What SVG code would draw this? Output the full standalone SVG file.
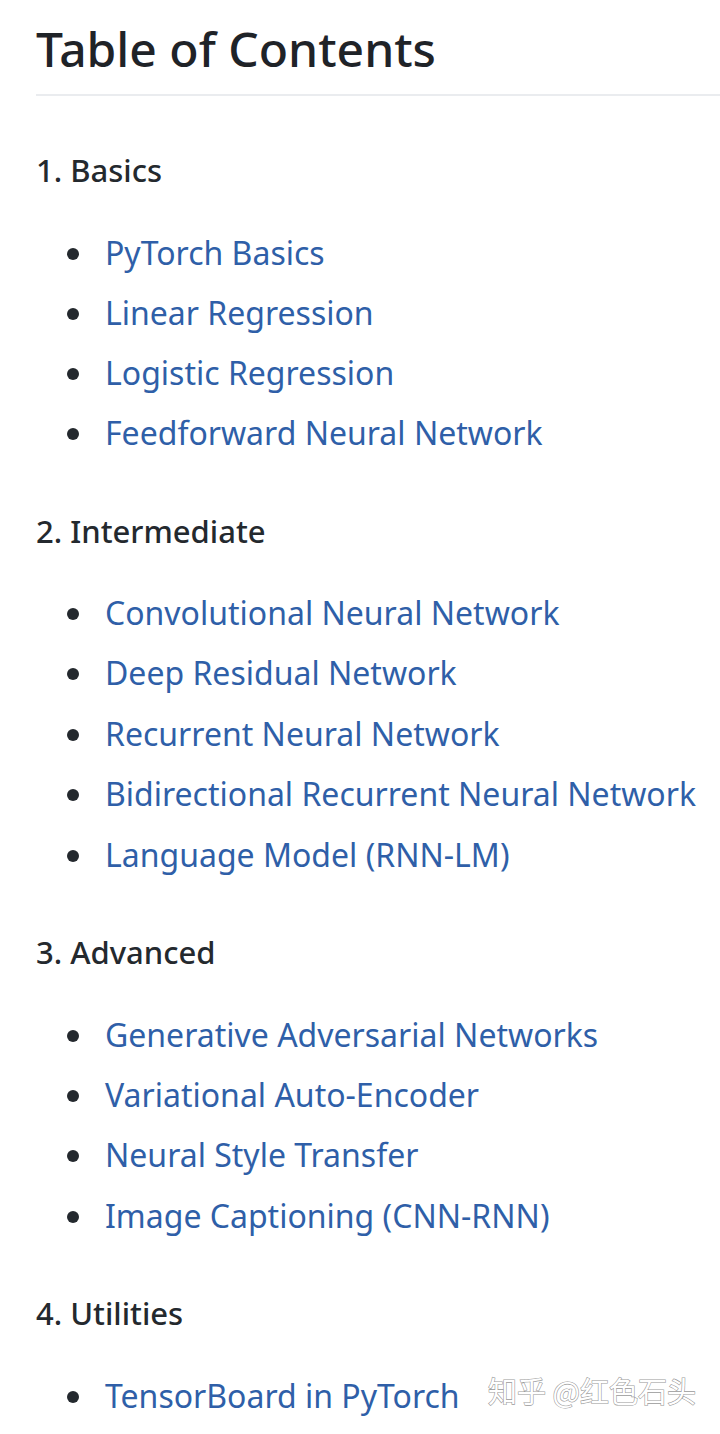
<svg xmlns="http://www.w3.org/2000/svg" width="720" height="1434" viewBox="0 0 720 1434">
<style>
.t{font-family:"Noto Sans","Open Sans",sans-serif;font-size:48px;font-weight:500;fill:#1f2328}
.h{font-family:"Noto Sans","Open Sans",sans-serif;font-size:31px;font-weight:500;fill:#24292e}
.i{font-family:"Noto Sans","Open Sans",sans-serif;font-size:32px;fill:#2f5fa8}
.b{fill:#24292e}
.w{font-family:"Noto Sans CJK SC",sans-serif;font-size:29px;fill:#ffffff;stroke:#9a9a9a;stroke-width:1.2;paint-order:stroke}
</style>
<rect width="720" height="1434" fill="#ffffff"/>
<text class="t" x="36" y="67">Table of Contents</text>
<rect x="36" y="94" width="684" height="2" fill="#eaecef"/>
<text class="h" x="36" y="182">1. Basics</text>
<text class="h" x="36" y="543">2. Intermediate</text>
<text class="h" x="36" y="964">3. Advanced</text>
<text class="h" x="36" y="1325">4. Utilities</text>
<g class="b">
<circle cx="73" cy="254" r="6"/><circle cx="73" cy="314" r="6"/><circle cx="73" cy="374" r="6"/><circle cx="73" cy="434" r="6"/>
<circle cx="73" cy="614" r="6"/><circle cx="73" cy="674" r="6"/><circle cx="73" cy="735" r="6"/><circle cx="73" cy="795" r="6"/><circle cx="73" cy="856" r="6"/>
<circle cx="73" cy="1036" r="6"/><circle cx="73" cy="1096" r="6"/><circle cx="73" cy="1156" r="6"/><circle cx="73" cy="1217" r="6"/>
<circle cx="73" cy="1397" r="6"/>
</g>
<text class="i" x="105" y="265">PyTorch Basics</text>
<text class="i" x="105" y="325">Linear Regression</text>
<text class="i" x="105" y="385">Logistic Regression</text>
<text class="i" x="105" y="445">Feedforward Neural Network</text>
<text class="i" x="105" y="625">Convolutional Neural Network</text>
<text class="i" x="105" y="685">Deep Residual Network</text>
<text class="i" x="105" y="746">Recurrent Neural Network</text>
<text class="i" x="105" y="806">Bidirectional Recurrent Neural Network</text>
<text class="i" x="105" y="867">Language Model (RNN-LM)</text>
<text class="i" x="105" y="1047">Generative Adversarial Networks</text>
<text class="i" x="105" y="1107">Variational Auto-Encoder</text>
<text class="i" x="105" y="1167">Neural Style Transfer</text>
<text class="i" x="105" y="1228">Image Captioning (CNN-RNN)</text>
<text class="i" x="105" y="1408">TensorBoard in PyTorch</text>
<text class="w" x="488" y="1403">知乎 @红色石头</text>
</svg>
